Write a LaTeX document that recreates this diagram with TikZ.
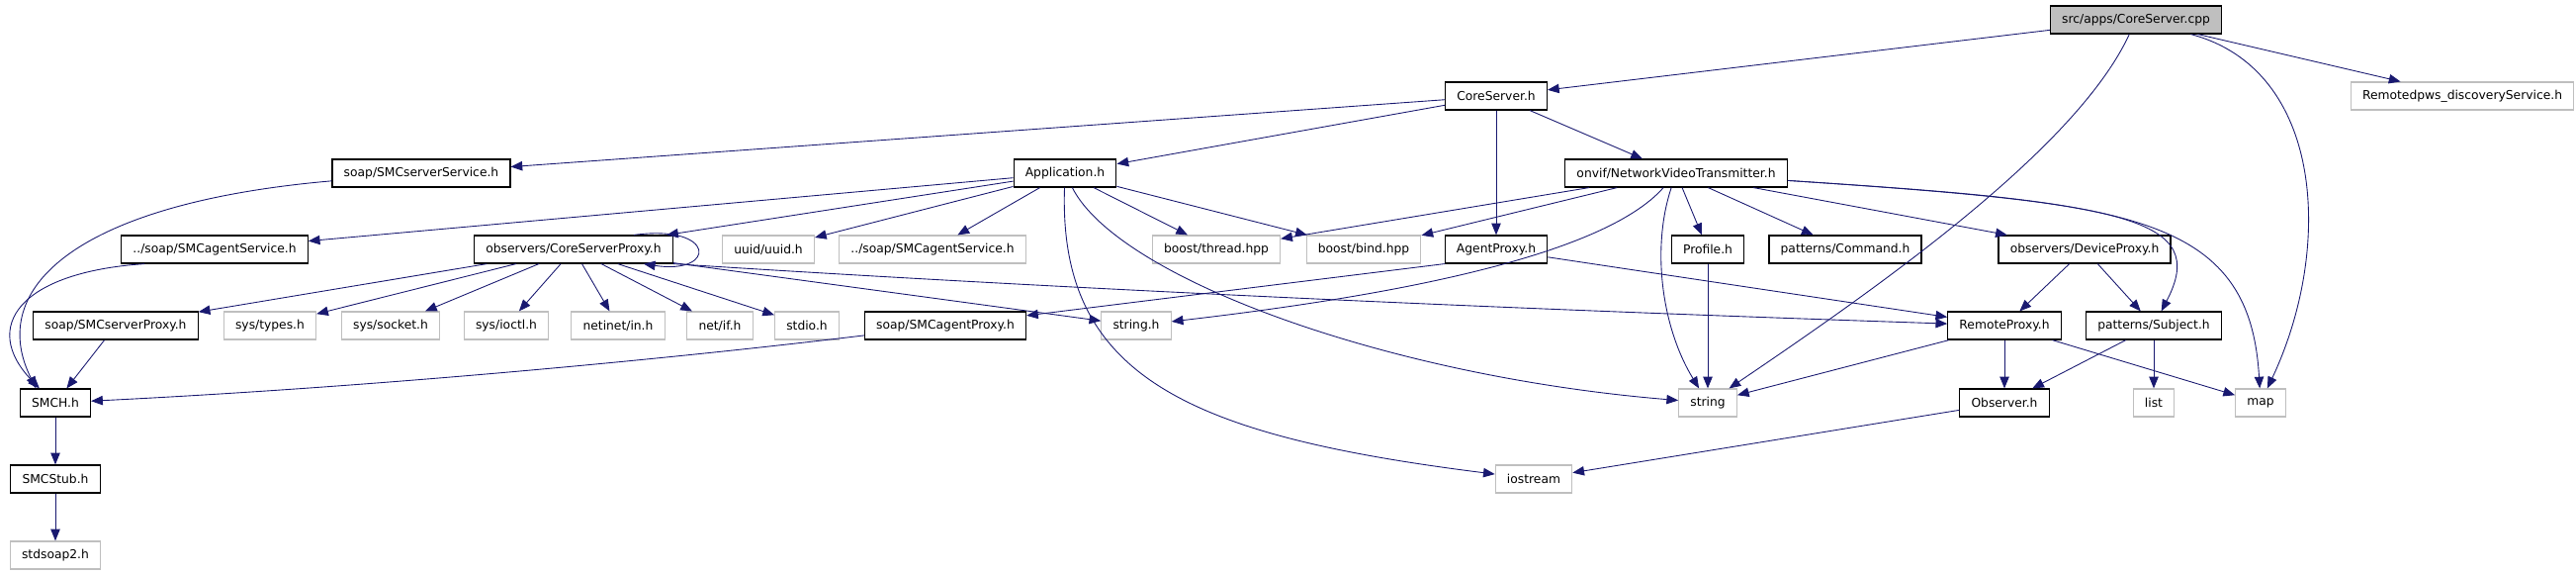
\documentclass[tikz,border=0pt]{standalone}
\usepackage{fontspec}
\setmainfont{DejaVu Sans}
\usetikzlibrary{arrows.meta}
\definecolor{edgeblue}{HTML}{191970}
\definecolor{extgray}{HTML}{BFBFBF}

\begin{document}
\begin{tikzpicture}[
    x=0.03cm, y=-0.03cm,
    file/.style={draw=black, line width=1pt, rectangle, minimum height=0.84cm, inner xsep=0.35cm, inner ysep=0pt, fill=white, font=\fontsize{10.5}{12}\selectfont},
    ext/.style={file, draw=extgray},
    root/.style={file, fill=extgray},
    arrow/.style={-{Triangle[length=10pt, width=8pt]}, edgeblue, line width=0.75pt}
]
\useasboundingbox (0,0) rectangle (2605,581);

% Nodes
\node[root] (cpp) at (2160,20) {src/apps/CoreServer.cpp};
\node[file] (coreserver) at (1513,97) {CoreServer.h};
\node[ext] (remotedpws) at (2490,97) {Remotedpws\_discoveryService.h};
\node[file] (srvservice) at (426,175) {soap/SMCserverService.h};
\node[file] (app) at (1077,175) {Application.h};
\node[file] (onvif) at (1695,175) {onvif/NetworkVideoTransmitter.h};
\node[file] (agtservice) at (217,252) {../soap/SMCagentService.h};
\node[file] (csproxy) at (580,252) {observers/CoreServerProxy.h};
\node[ext] (uuid) at (777,252) {uuid/uuid.h};
\node[ext] (agtserviceext) at (943,252) {../soap/SMCagentService.h};
\node[ext] (thread) at (1230,252) {boost/thread.hpp};
\node[ext] (bind) at (1379,252) {boost/bind.hpp};
\node[file] (agentproxy) at (1513,252) {AgentProxy.h};
\node[file] (profile) at (1727,252) {Profile.h};
\node[file] (command) at (1866,252) {patterns/Command.h};
\node[file] (deviceproxy) at (2108,252) {observers/DeviceProxy.h};
\node[file] (srvproxy) at (117,329) {soap/SMCserverProxy.h};
\node[ext] (types) at (273,329) {sys/types.h};
\node[ext] (socket) at (395,329) {sys/socket.h};
\node[ext] (ioctl) at (512,329) {sys/ioctl.h};
\node[ext] (netin) at (625,329) {netinet/in.h};
\node[ext] (netif) at (728,329) {net/if.h};
\node[ext] (stdio) at (816,329) {stdio.h};
\node[file] (agtproxy) at (956,329) {soap/SMCagentProxy.h};
\node[ext] (stringh) at (1149,329) {string.h};
\node[file] (remoteproxy) at (2027,329) {RemoteProxy.h};
\node[file] (subject) at (2178,329) {patterns/Subject.h};
\node[file] (smch) at (56,407) {SMCH.h};
\node[ext] (string) at (1727,407) {string};
\node[file] (observer) at (2027,407) {Observer.h};
\node[ext] (list) at (2178,407) {list};
\node[ext] (map) at (2286,407) {map};
\node[file] (smcstub) at (56,484) {SMCStub.h};
\node[ext] (iostream) at (1551,484) {iostream};
\node[ext] (stdsoap) at (56,561) {stdsoap2.h};

% Arrows
\draw[arrow] (cpp) -- (coreserver);
\draw[arrow] (cpp) -- (remotedpws);
\draw[arrow] (cpp) .. controls (2100,150) and (1900,290) .. (string);
\draw[arrow] (cpp) .. controls (2350,70) and (2360,250) .. (map);

\draw[arrow] (coreserver) -- (srvservice);
\draw[arrow] (coreserver) -- (app);
\draw[arrow] (coreserver) -- (agentproxy);
\draw[arrow] (coreserver) -- (onvif);

\draw[arrow] (srvservice) .. controls (80,205) and (-15,290) .. ([xshift=0.5cm]smch.north west);

\draw[arrow] (app) -- (agtservice);
\draw[arrow] (app) -- (csproxy);
\draw[arrow] (app) -- (uuid);
\draw[arrow] (app) -- (agtserviceext);
\draw[arrow] (app) -- (thread);
\draw[arrow] (app) -- (bind);
\draw[arrow] (app) .. controls (1130,280) and (1400,380) .. (string);
\draw[arrow] (app) .. controls (1070,380) and (1200,440) .. (iostream);

\draw[arrow] (onvif) -- (thread);
\draw[arrow] (onvif) -- (bind);
\draw[arrow] (onvif) .. controls (1620,260) and (1400,300) .. (stringh);
\draw[arrow] (onvif) .. controls (1670,250) and (1680,330) .. (string);
\draw[arrow] (onvif) -- (profile);
\draw[arrow] (onvif) -- (command);
\draw[arrow] (onvif) -- (deviceproxy);
\draw[arrow] (onvif) .. controls (2150,205) and (2235,220) .. (subject);
\draw[arrow] (onvif) .. controls (2150,205) and (2275,215) .. (map);

\draw[arrow] ([xshift=0.72cm]agtservice.south west) .. controls (20,275) and (-20,330) .. ([xshift=0.6cm]smch.north west);

\draw[arrow] ([xshift=-1.2cm]csproxy.north east) .. controls (725,226) and (725,278) .. ([xshift=-0.9cm]csproxy.south east);
\draw[arrow] (csproxy) -- (srvproxy);
\draw[arrow] (csproxy) -- (types);
\draw[arrow] (csproxy) -- (socket);
\draw[arrow] (csproxy) -- (ioctl);
\draw[arrow] (csproxy) -- (netin);
\draw[arrow] (csproxy) -- (netif);
\draw[arrow] (csproxy) -- (stdio);
\draw[arrow] (csproxy) -- (stringh);
\draw[arrow] (csproxy.south east) .. controls (1200,300) and (1700,318) .. (remoteproxy);

\draw[arrow] (agentproxy.south west) -- (agtproxy);
\draw[arrow] (agentproxy) -- (remoteproxy);
\draw[arrow] (profile) -- (string);
\draw[arrow] (deviceproxy) -- (remoteproxy);
\draw[arrow] (deviceproxy) -- (subject);

\draw[arrow] (srvproxy) -- (smch);
\draw[arrow] (agtproxy) .. controls (700,360) and (400,390) .. (smch);

\draw[arrow] (remoteproxy) -- (string);
\draw[arrow] (remoteproxy) -- (observer);
\draw[arrow] (remoteproxy) -- (map);
\draw[arrow] (subject) -- (observer);
\draw[arrow] (subject) -- (list);
\draw[arrow] (observer) -- (iostream);

\draw[arrow] (smch) -- (smcstub);
\draw[arrow] (smcstub) -- (stdsoap);
\end{tikzpicture}
\end{document}
